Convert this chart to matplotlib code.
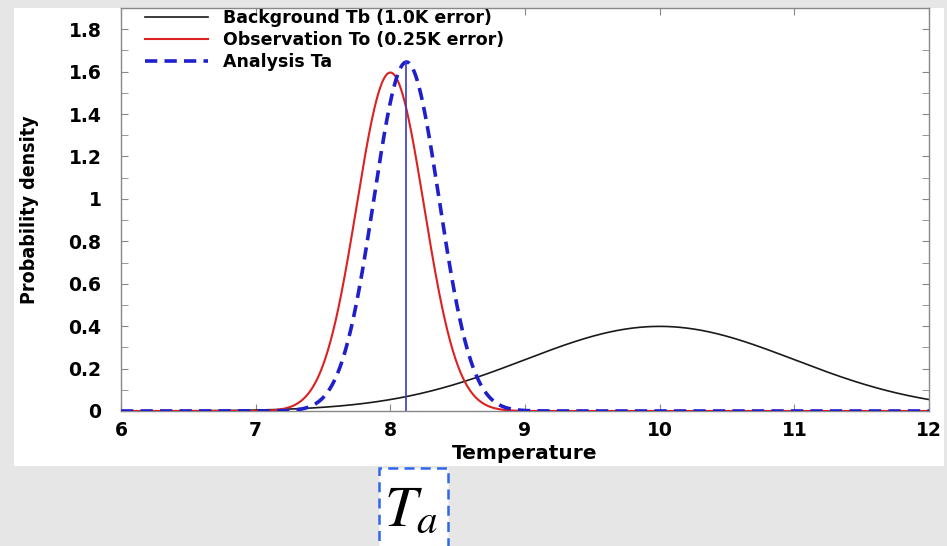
import matplotlib
matplotlib.use("Agg")
import matplotlib.pyplot as plt
import numpy as np
from matplotlib.patches import Rectangle
from matplotlib.ticker import MultipleLocator, FuncFormatter

# curve parameters (legend gives the errors)
series_labels = ["Background Tb (1.0K error)", "Observation To (0.25K error)", "Analysis Ta"]
series_means = [10.0, 8.0, 8.12]
series_errors = [1.0, 0.25, 0.2425]
series_colors = ["#1a1a1a", "#dd2020", "#1f1fcc"]

x_range = [6, 12]
y_range = [0, 1.9]
x_ticks = [6, 7, 8, 9, 10, 11, 12]
y_ticks = [0, 0.2, 0.4, 0.6, 0.8, 1.0, 1.2, 1.4, 1.6, 1.8]

W, H = 947, 546

plt.rcParams['font.family'] = ['DejaVu Sans']
plt.rcParams['mathtext.fontset'] = 'stix'

fig = plt.figure(figsize=(W / 100, H / 100), dpi=100, facecolor='#e6e6e6')

# white panel behind the plot
fig.add_artist(Rectangle((14 / W, 1 - 466 / H), (944 - 14) / W, (466 - 8) / H,
                         transform=fig.transFigure, facecolor='white', edgecolor='none', zorder=0))

ax = fig.add_axes([121 / W, 1 - 411 / H, (929 - 121) / W, (411 - 8) / H])
ax.set_facecolor('white')

x_vals = np.linspace(x_range[0], x_range[1], 1201)
widths = [1.2, 1.5, 2.6]
styles = ['-', '-', (0, (3.4, 2.0))]
for i in range(3):
    mu, sd = series_means[i], series_errors[i]
    pdf = np.exp(-0.5 * ((x_vals - mu) / sd) ** 2) / (sd * np.sqrt(2 * np.pi))
    ax.plot(x_vals, pdf, color=series_colors[i], lw=widths[i], linestyle=styles[i],
            label=series_labels[i], zorder=2 + i)

# vertical line at the analysis mean, up to its peak
peak = 1 / (series_errors[2] * np.sqrt(2 * np.pi))
ax.plot([series_means[2], series_means[2]], [0, peak], color='#3a3ac0', lw=1.2, zorder=6)

ax.set_xlim(x_range)
ax.set_ylim(y_range)
ax.set_xticks(x_ticks)
ax.set_yticks(y_ticks)
ax.yaxis.set_minor_locator(MultipleLocator(0.1))
ax.yaxis.set_major_formatter(FuncFormatter(lambda v, p: f"{v:g}"))
ax.tick_params(which='both', direction='in', top=True, right=True, color='#888888',
               labelsize=13.5, length=5)
ax.tick_params(axis='y', pad=14)
ax.tick_params(axis='x', pad=7)
for lab in ax.get_xticklabels() + ax.get_yticklabels():
    lab.set_fontweight('bold')
for s in ax.spines.values():
    s.set_color('#888888')
    s.set_linewidth(1.0)

ax.set_xlabel("Temperature", fontsize=14.5, fontweight='bold', labelpad=3)
ax.set_ylabel("Probability density", fontsize=14, fontweight='bold', labelpad=21,
              fontstretch='condensed')

fig.legend(loc='upper left', bbox_to_anchor=(145 / W, 1 - 9 / H), frameon=False,
           prop={'weight': 'bold', 'size': 12.5}, borderpad=0, borderaxespad=0,
           handlelength=3.6, handletextpad=0.9, labelspacing=0.22)

# dashed box with T_a under the axis
fig.add_artist(Rectangle((379 / W, 1 - 560 / H), (448 - 379) / W, (560 - 468) / H,
                         transform=fig.transFigure, facecolor='white', edgecolor='#2f66ee',
                         lw=1.8, linestyle=(0, (4, 2.5)), zorder=5, clip_on=False))
fig.text(411 / W, 1 - 510 / H, r"$T_a$", fontsize=42, ha='center', va='center', zorder=6)

fig.savefig("out.png", dpi=100, facecolor=fig.get_facecolor())
